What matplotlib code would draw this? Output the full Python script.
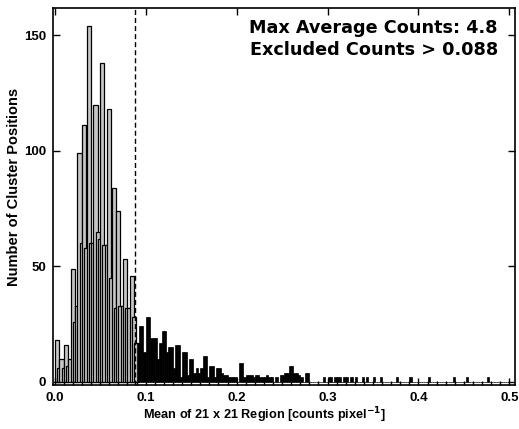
# histogram of mean counts in 21x21 regions around cluster positions
# open bars below the cut, filled bars for the excluded ones

import numpy as np
import matplotlib.pyplot as plt

plt.rcParams['font.family'] = ['Liberation Sans', 'DejaVu Sans']
plt.rcParams['font.weight'] = 'bold'

bin_width = 0.0025
cut = 0.088

# counts per bin, bins start at 0.0
kept_counts = [18, 6, 10, 6, 16, 7, 10, 49, 26, 33,
               99, 60, 111, 58, 154, 60, 60, 120, 65, 62,
               138, 59, 59, 118, 45, 84, 32, 74, 33, 33,
               53, 32, 32, 46, 28, 17]

excl_counts = [17, 24, 24, 13, 28, 28, 19, 19, 19, 10,
               17, 22, 22, 13, 15, 15, 6, 16, 16, 2,
               13, 13, 3, 10, 10, 4, 6, 4, 6, 11,
               11, 2, 7, 7, 2, 6, 6, 4, 3, 3,
               2, 2, 2, 2, 0, 8, 8, 2, 3, 3,
               3, 2, 3, 3, 2, 2, 2, 3, 2, 2,
               0, 2, 0, 3, 3, 4, 4, 7, 7, 4,
               4, 3, 2, 0, 4, 4,
               0, 0, 0, 0, 0, 0,
               2, 0, 2, 2, 0, 2, 2, 2, 0, 2, 2,
               0, 2, 0, 2, 0, 0, 2, 0, 2, 0, 0, 2, 0, 0, 2,
               0, 0, 0, 0, 0, 0, 2, 0, 0, 0, 0, 0, 2, 0, 0, 0,
               0, 0, 0, 0, 2, 0, 0, 0, 0, 0, 0, 0, 0, 0, 0, 2,
               0, 0, 0, 0, 0, 2, 0, 0, 0, 0, 0, 0, 0, 0, 2, 0,
               0, 0, 0, 0, 0, 0, 0, 0]

max_avg = 4.8

kept_x = np.arange(len(kept_counts)) * bin_width
excl_x = (np.arange(len(excl_counts)) + len(kept_counts)) * bin_width

fig = plt.figure(figsize=(5.19, 4.29), dpi=100)
ax = fig.add_axes([0.102, 0.103, 0.890, 0.878])

# open bars are wider than a bin so they overlap like the original
for x, c in zip(kept_x, kept_counts):
    ax.bar(x, c, 1.85 * bin_width, align='edge', color='#c6c6c6',
           edgecolor='black', linewidth=0.9)
ax.bar(excl_x, excl_counts, bin_width, align='edge', color='black',
       edgecolor='black', linewidth=0.5)

ax.axvline(cut, color='black', linewidth=1, dashes=(3.6, 2.2))

ax.set_xlim(-0.002, 0.506)
ax.set_ylim(-1.3, 161.7)
ax.set_xticks(np.arange(0, 0.51, 0.1))
ax.set_xticklabels(['0.0', '0.1', '0.2', '0.3', '0.4', '0.5'])
ax.set_xticks(np.arange(0, 0.505, 0.01), minor=True)
ax.set_yticks([0, 50, 100, 150])
ax.tick_params(which='major', direction='in', length=5, width=1,
               top=True, right=True, labelsize=9.5, pad=5)
ax.tick_params(which='minor', direction='in', length=3, width=1,
               top=False, bottom=True)
for s in ax.spines.values():
    s.set_linewidth(1.2)

ax.set_xlabel('Mean of 21 x 21 Region [counts pixel$^{\\mathbf{-1}}$]',
              fontsize=9.2, fontweight='bold')
ax.xaxis.set_label_coords(0.457, -0.055)
ax.set_ylabel('Number of Cluster Positions', fontsize=10.5,
              fontweight='bold')
ax.yaxis.set_label_coords(-0.07, 0.525)

ax.text(0.963, 0.971, 'Max Average Counts: %.1f' % max_avg,
        transform=ax.transAxes, ha='right', va='top', fontsize=12.7,
        fontweight='bold', family='DejaVu Sans')
ax.text(0.963, 0.913, 'Excluded Counts > %.3f' % cut,
        transform=ax.transAxes, ha='right', va='top', fontsize=12.7,
        fontweight='bold', family='DejaVu Sans')

fig.savefig('out.png', dpi=100)
